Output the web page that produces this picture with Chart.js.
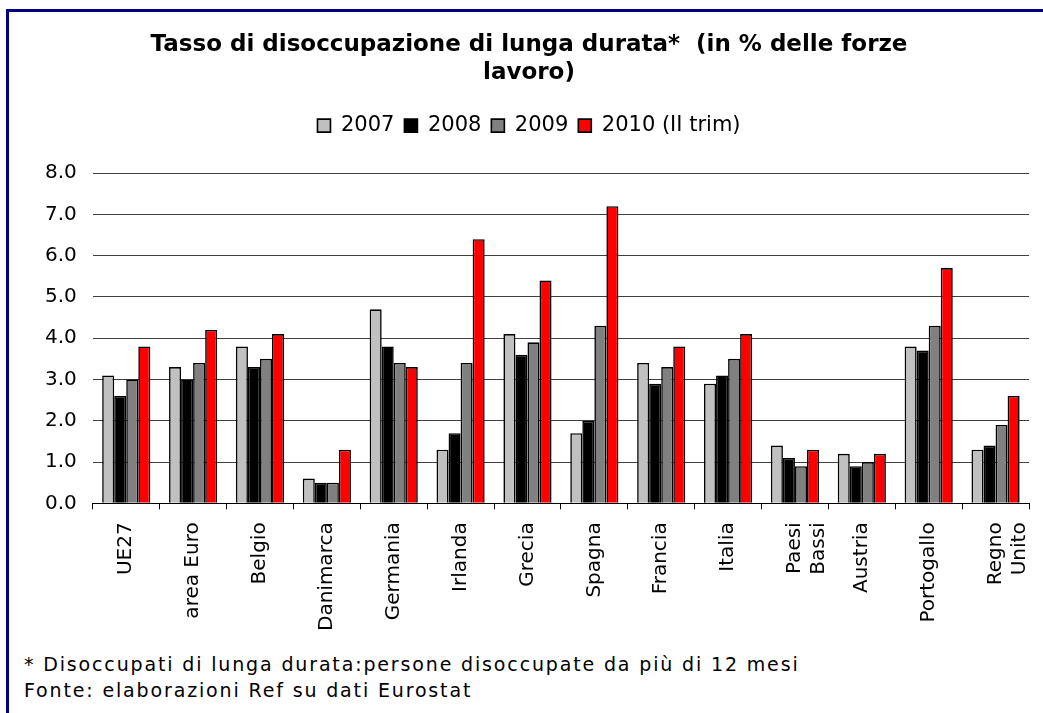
<!DOCTYPE html>
<html>
<head>
<meta charset="utf-8">
<script src="https://cdn.jsdelivr.net/npm/chart.js@4/dist/chart.umd.min.js"></script>
<style>
  html, body { margin: 0; padding: 0; background: #fff; }
  #frame { position: absolute; left: 0; top: 0; width: 1043px; height: 713px; overflow: hidden; background: #fff; }
  #border { position: absolute; left: 6px; top: 9px; width: 1100px; height: 800px; border-left: 3px solid #000080; border-top: 3px solid #000080; }
  #wrap { position: absolute; left: 9px; top: 12px; width: 1034px; height: 640px; }
  .note { position: absolute; left: 24px; font-family: "DejaVu Sans", Verdana, sans-serif; font-size: 19px; letter-spacing: 1.85px; color: #000; white-space: nowrap; }
</style>
</head>
<body>
<div id="frame">
  <div id="border"></div>
  <div id="wrap"><canvas id="c" width="1034" height="640"></canvas></div>
  <div class="note" id="n1" style="top:653px;">* Disoccupati di lunga durata:persone disoccupate da più di 12 mesi</div>
  <div class="note" id="n2" style="top:679px;">Fonte: elaborazioni Ref su dati Eurostat</div>
</div>
<script>
const categories = ['UE27', 'area Euro', 'Belgio', 'Danimarca', 'Germania', 'Irlanda', 'Grecia', 'Spagna', 'Francia', 'Italia', ['Paesi', 'Bassi'], 'Austria', 'Portogallo', ['Regno', 'Unito']];
const seriesNames = ['2007', '2008', '2009', '2010 (II trim)'];
const v2007 = [3.1, 3.3, 3.8, 0.6, 4.7, 1.3, 4.1, 1.7, 3.4, 2.9, 1.4, 1.2, 3.8, 1.3];
const v2008 = [2.6, 3.0, 3.3, 0.5, 3.8, 1.7, 3.6, 2.0, 2.9, 3.1, 1.1, 0.9, 3.7, 1.4];
const v2009 = [3.0, 3.4, 3.5, 0.5, 3.4, 3.4, 3.9, 4.3, 3.3, 3.5, 0.9, 1.0, 4.3, 1.9];
const v2010 = [3.8, 4.2, 4.1, 1.3, 3.3, 6.4, 5.4, 7.2, 3.8, 4.1, 1.3, 1.2, 5.7, 2.6];
const yTicks = [0, 1, 2, 3, 4, 5, 6, 7, 8];
const colors = ['#C0C0C0', '#000000', '#808080', '#FF0000'];
const titleLines = ['Tasso di disoccupazione di lunga durata*  (in % delle forze', 'lavoro)'];

const FONT = '"DejaVu Sans", Verdana, sans-serif';
const values = [v2007, v2008, v2009, v2010];

const legendSpacer = {
  id: 'legendSpacer',
  beforeInit(chart) {
    const origFit = chart.legend.fit;
    chart.legend.fit = function () {
      origFit.bind(this)();
      this.height += 27;
    };
  }
};

new Chart(document.getElementById('c'), {
  type: 'bar',
  data: {
    labels: categories,
    datasets: values.map((d, i) => ({
      label: seriesNames[i],
      data: d,
      backgroundColor: colors[i],
      borderColor: '#000000',
      borderWidth: 1.6,
      categoryPercentage: 0.72,
      barPercentage: 1.0
    }))
  },
  plugins: [legendSpacer],
  options: {
    responsive: false,
    animation: false,
    devicePixelRatio: 1,
    layout: { padding: { left: 20, right: 14, top: 19, bottom: 8 } },
    plugins: {
      tooltip: { enabled: false },
      title: {
        display: true,
        text: titleLines,
        color: '#000',
        font: { family: FONT, size: 23, weight: 'bold', lineHeight: 1.22 },
        padding: { top: 0, bottom: 18 }
      },
      legend: {
        display: true,
        position: 'top',
        labels: {
          color: '#000',
          font: { family: FONT, size: 21 },
          boxWidth: 13,
          boxHeight: 13,
          padding: 10
        }
      }
    },
    scales: {
      x: {
        afterFit: (scale) => { scale.paddingLeft = 0; scale.paddingRight = 0; },
        grid: { display: true, drawOnChartArea: false, offset: true, color: '#000', tickLength: 6, tickColor: '#000' },
        border: { display: true, color: '#000', width: 1 },
        ticks: {
          color: '#000',
          font: { family: FONT, size: 20 },
          minRotation: 90,
          maxRotation: 90,
          autoSkip: false,
          padding: 13
        }
      },
      y: {
        min: 0,
        max: 8,
        afterBuildTicks: (axis) => { axis.ticks = yTicks.map(v => ({ value: v })); },
        grid: { color: '#404040', lineWidth: 1, drawTicks: false },
        border: { display: false },
        ticks: {
          color: '#000',
          font: { family: FONT, size: 20 },
          padding: 16,
          callback: (v) => Number(v).toFixed(1)
        }
      }
    }
  }
});
</script>
</body>
</html>
